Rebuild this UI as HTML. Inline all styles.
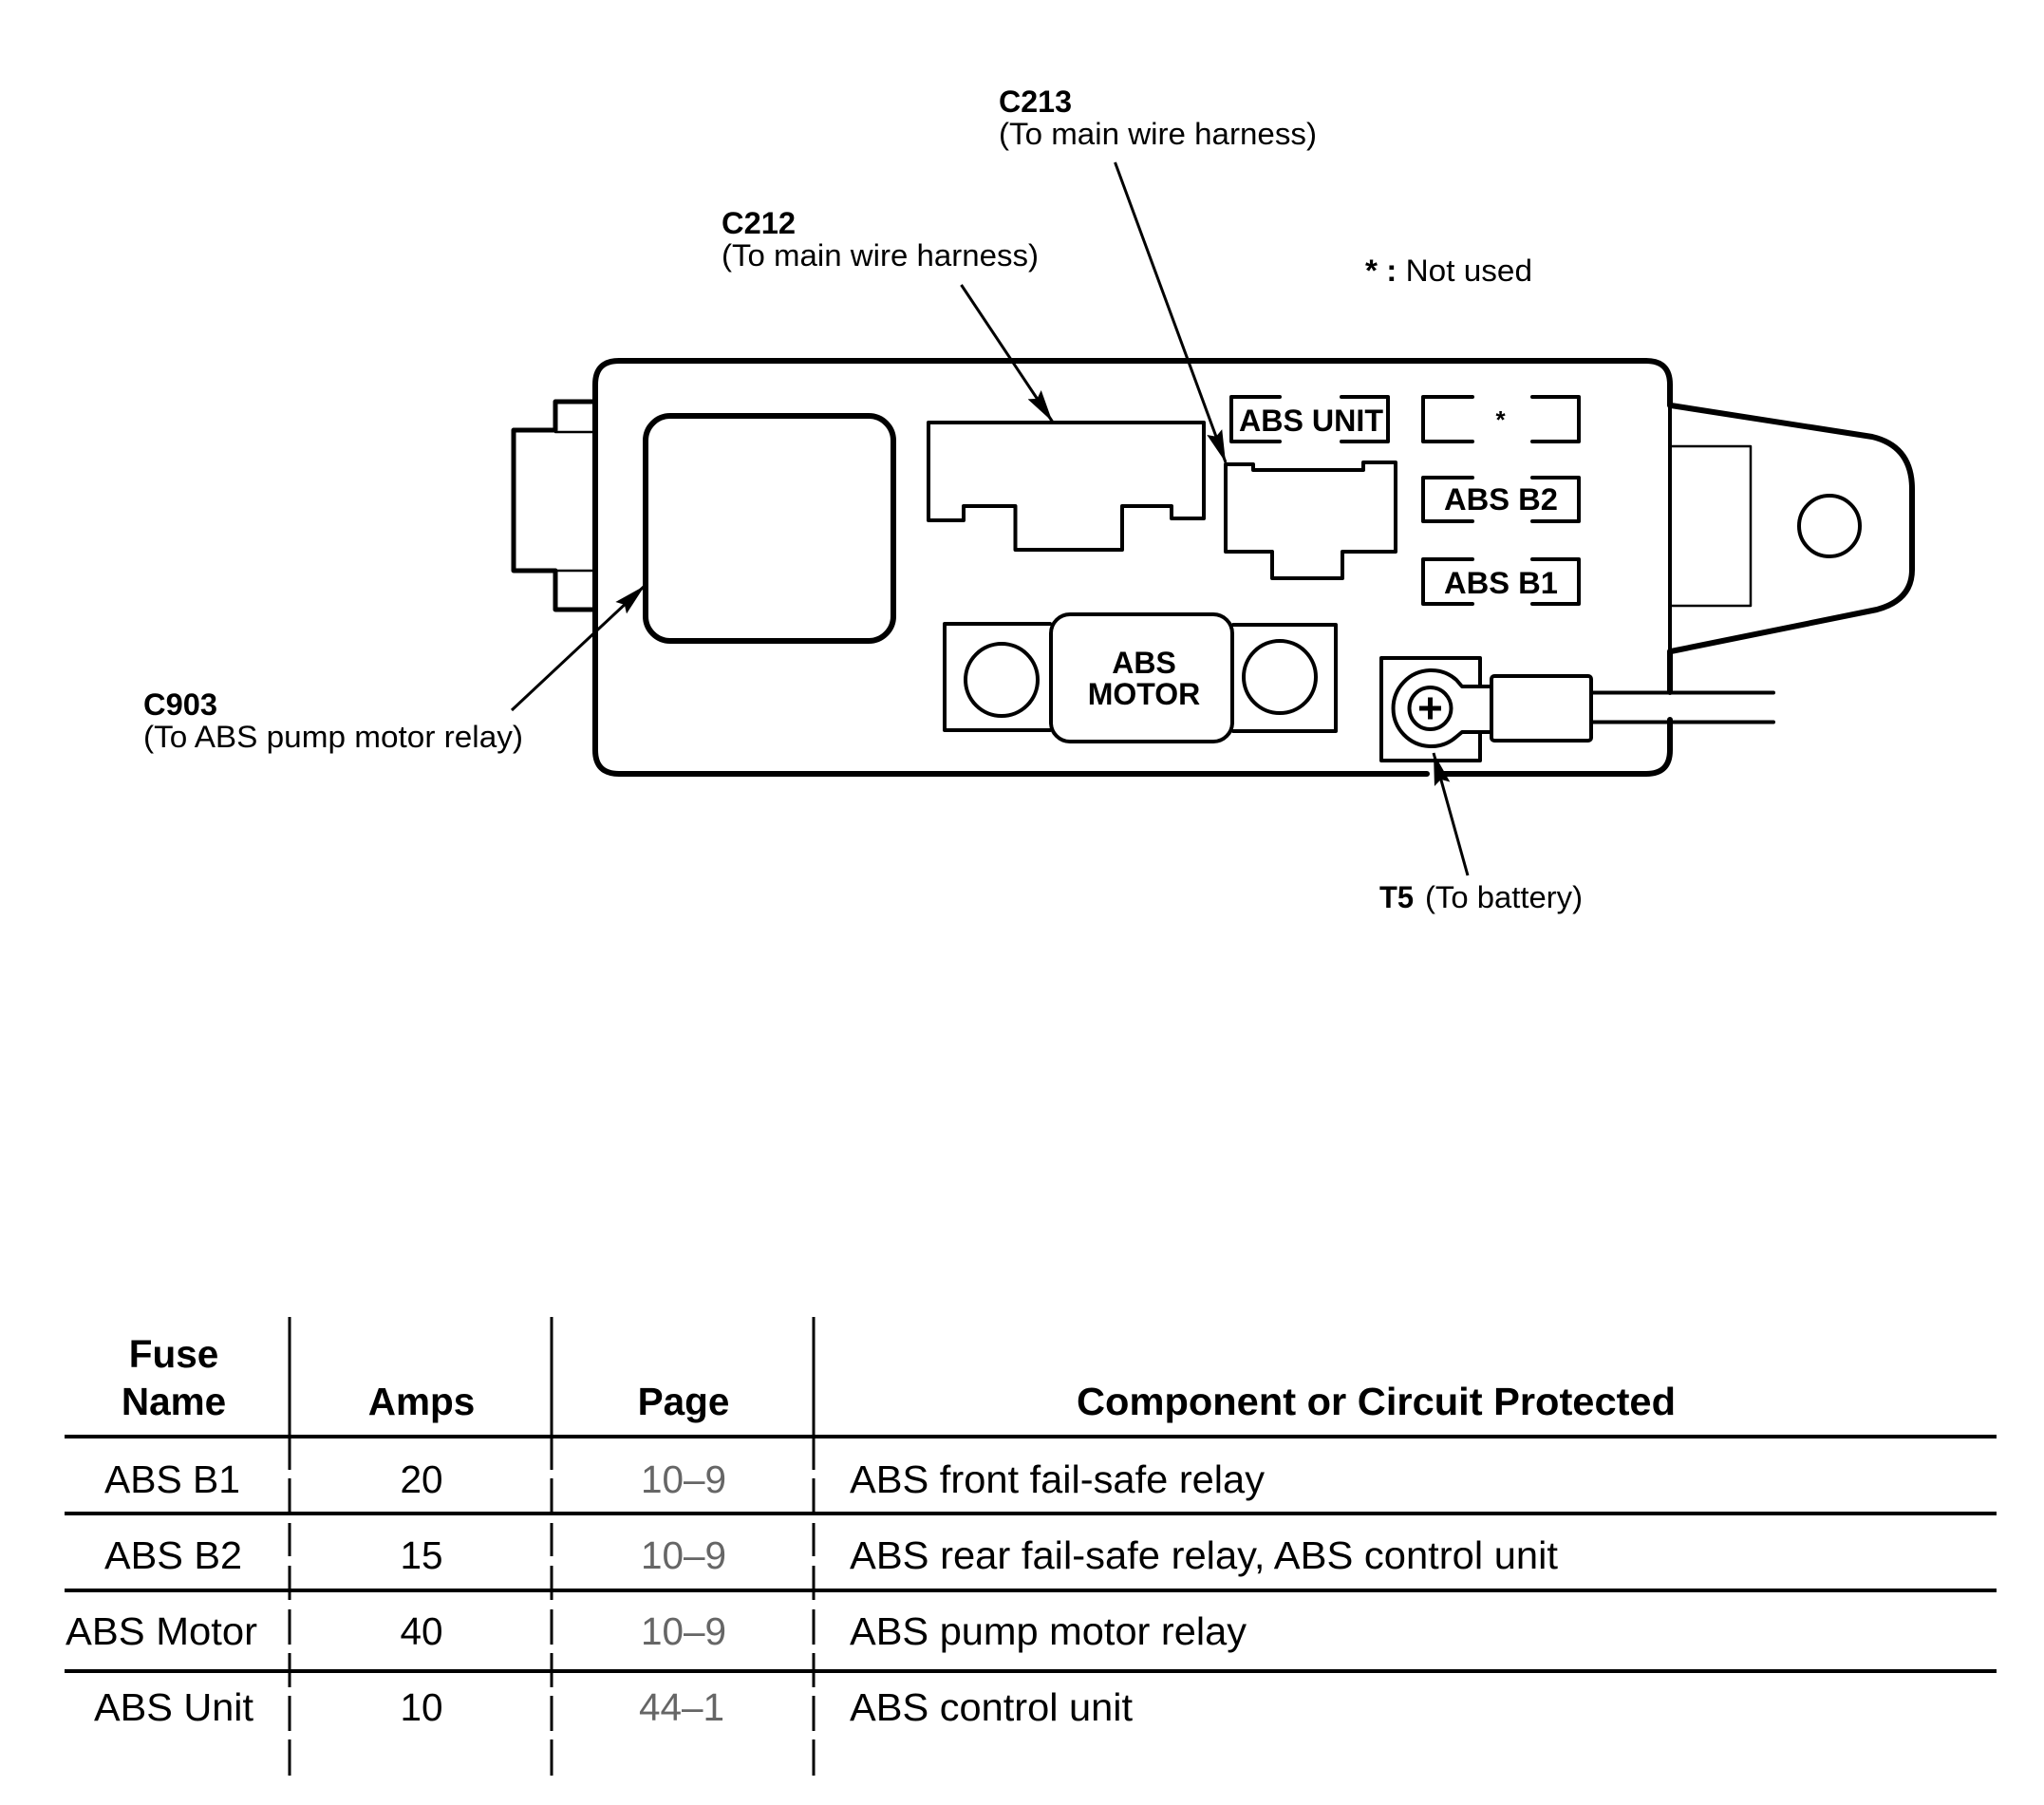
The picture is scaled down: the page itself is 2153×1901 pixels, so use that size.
<!DOCTYPE html>
<html><head><meta charset="utf-8"><style>
html,body{margin:0;padding:0;background:#fff}
svg{display:block}
text{font-family:"Liberation Sans",Arial,sans-serif;fill:#000}
.b{font-weight:bold}
</style></head><body>
<svg width="2153" height="1901" viewBox="0 0 2153 1901" xmlns="http://www.w3.org/2000/svg">
<defs><marker id="a" markerUnits="userSpaceOnUse" markerWidth="36" markerHeight="24" refX="34" refY="12" orient="auto"><path d="M0,3.5 L34,12 L0,20.5 L5,12 Z" fill="#000"/></marker></defs>
<rect width="2153" height="1901" fill="#fff"/>

<g fill="none" stroke="#000" stroke-linejoin="round" stroke-linecap="round">
  <!-- main housing -->
  <path stroke-width="6" d="M1759,427 V405 Q1759,380 1734,380 H652 Q627,380 627,405 V790 Q627,815 652,815 H1503 M1520,815 H1734 Q1759,815 1759,790 V758 M1759,686 V729"/>
  <path stroke-width="4" d="M1759,427 V686"/>
  <!-- left connector -->
  <path stroke-width="5" d="M627,423 H585 V453 H541 V601 H585 V642 H627"/>
  <path stroke-width="2.5" d="M585,455 H627 M585,601 H627"/>
  <!-- big relay -->
  <rect x="680" y="438" width="261" height="237" rx="26" stroke-width="6"/>
  <!-- C212 -->
  <path stroke-width="4" d="M978,445 H1268 V546 H1234 V533 H1182 V579 H1069.5 V533 H1015 V548 H978 Z"/>
  <!-- C213 -->
  <path stroke-width="4" d="M1291,489 H1320 V495 H1436 V487 H1470 V581 H1414 V609 H1340 V581 H1291 Z"/>
  <!-- brackets -->
  <path stroke-width="4" d="M1348,418 H1297 V465 H1348 M1413,418 H1462 V465 H1413"/>
  <path stroke-width="4" d="M1551,418 H1499 V465 H1551 M1614,418 H1663 V465 H1614"/>
  <path stroke-width="4" d="M1551,503 H1499 V549 H1551 M1614,503 H1663 V549 H1614"/>
  <path stroke-width="4" d="M1551,589 H1499 V636 H1551 M1614,589 H1663 V636 H1614"/>
  <!-- ABS motor fuse -->
  <path stroke-width="4" d="M1106,657 H995 V769 H1106"/>
  <path stroke-width="4" d="M1299,658 H1407 V770 H1299"/>
  <rect x="1107" y="647" width="191" height="134" rx="20" stroke-width="4"/>
  <circle cx="1055" cy="716" r="38" stroke-width="4"/>
  <circle cx="1348" cy="713" r="38" stroke-width="4"/>
  <!-- ear -->
  <path stroke-width="6" d="M1760,427 L1972,460 Q2014,470 2014,515 V600 Q2014,632 1977,642 L1760,686"/>
  <path stroke-width="2.5" d="M1760,470 H1844 V638 H1760"/>
  <circle cx="1927" cy="554" r="32" stroke-width="4"/>
  <!-- T5 terminal -->
  <path stroke-width="4" d="M1559,723 V693 H1455 V801 H1559 V771"/>
  <path stroke-width="4" d="M1570,723 H1540 L1534,716 A40,40 0 1 0 1534,776 L1540,771 H1570" fill="#fff"/>
  <circle cx="1506.5" cy="746" r="22" stroke-width="4"/>
  <path stroke-width="5" stroke-linecap="butt" d="M1495,746 H1518 M1506.5,734.5 V757.5"/>
  <rect x="1571" y="712" width="105" height="68" rx="3" stroke-width="4"/>
  <path stroke-width="4" d="M1676,729.5 H1868 M1676,760.5 H1868"/>
  <!-- leaders -->
  <path stroke-width="3" marker-end="url(#a)" stroke-linecap="butt" d="M1012.5,300 L1108.5,444"/>
  <path stroke-width="3" marker-end="url(#a)" stroke-linecap="butt" d="M1174.5,171 L1291,487"/>
  <path stroke-width="3" marker-end="url(#a)" stroke-linecap="butt" d="M539,748 L679,617"/>
  <path stroke-width="3" marker-end="url(#a)" stroke-linecap="butt" d="M1546,922 L1510,793"/>
  <!-- table -->
  <path stroke-width="4" stroke-linecap="butt" d="M68,1513 H2103 M68,1594 H2103 M68,1675 H2103 M68,1760 H2103"/>
  <path stroke-width="3" stroke-linecap="butt" d="M305,1387 V1548 M305,1557 V1594 M305,1604 V1639 M305,1649 V1685 M305,1695 V1732 M305,1741 V1777 M305,1786 V1823 M305,1832 V1870
    M581,1387 V1548 M581,1557 V1594 M581,1604 V1639 M581,1649 V1685 M581,1695 V1732 M581,1741 V1777 M581,1786 V1823 M581,1832 V1870
    M857,1387 V1548 M857,1557 V1594 M857,1604 V1639 M857,1649 V1685 M857,1695 V1732 M857,1741 V1777 M857,1786 V1823 M857,1832 V1870"/>
</g>

<!-- callouts -->
<g font-size="32">
  <text class="b" x="1052" y="118" textLength="77" lengthAdjust="spacingAndGlyphs">C213</text>
  <text x="1052" y="152" textLength="335" lengthAdjust="spacingAndGlyphs">(To main wire harness)</text>
  <text class="b" x="760" y="246" textLength="78" lengthAdjust="spacingAndGlyphs">C212</text>
  <text x="760" y="280" textLength="334" lengthAdjust="spacingAndGlyphs">(To main wire harness)</text>
  <text x="1438" y="296" textLength="176" lengthAdjust="spacingAndGlyphs"><tspan class="b">* :</tspan> Not used</text>
  <text class="b" x="151" y="753" textLength="78" lengthAdjust="spacingAndGlyphs">C903</text>
  <text x="151" y="787" textLength="400" lengthAdjust="spacingAndGlyphs">(To ABS pump motor relay)</text>
  <text class="b" x="1453" y="956" textLength="36" lengthAdjust="spacingAndGlyphs">T5</text>
  <text x="1501" y="956" textLength="166" lengthAdjust="spacingAndGlyphs">(To battery)</text>
  <text class="b" x="1305" y="454" textLength="152" lengthAdjust="spacingAndGlyphs">ABS UNIT</text>
  <text class="b" x="1580.5" y="451" text-anchor="middle" font-size="26">*</text>
  <text class="b" x="1521" y="537" textLength="120" lengthAdjust="spacingAndGlyphs">ABS B2</text>
  <text class="b" x="1521" y="625" textLength="120" lengthAdjust="spacingAndGlyphs">ABS B1</text>
  <text class="b" x="1205" y="709" text-anchor="middle">ABS</text>
  <text class="b" x="1205" y="742" text-anchor="middle">MOTOR</text>
</g>

<!-- table text -->
<g font-size="40.5">
  <text class="b" x="183" y="1440" text-anchor="middle">Fuse</text>
  <text class="b" x="183" y="1490" text-anchor="middle">Name</text>
  <text class="b" x="444" y="1490" text-anchor="middle">Amps</text>
  <text class="b" x="720" y="1490" text-anchor="middle">Page</text>
  <text class="b" x="1134" y="1490" textLength="631" lengthAdjust="spacingAndGlyphs">Component or Circuit Protected</text>

  <text x="110" y="1572" textLength="143" lengthAdjust="spacingAndGlyphs">ABS B1</text>
  <text x="110" y="1652" textLength="145" lengthAdjust="spacingAndGlyphs">ABS B2</text>
  <text x="69" y="1732" textLength="202" lengthAdjust="spacingAndGlyphs">ABS Motor</text>
  <text x="99" y="1812" textLength="168" lengthAdjust="spacingAndGlyphs">ABS Unit</text>

  <text x="444" y="1572" text-anchor="middle">20</text>
  <text x="444" y="1652" text-anchor="middle">15</text>
  <text x="444" y="1732" text-anchor="middle">40</text>
  <text x="444" y="1812" text-anchor="middle">10</text>

  <text x="720" y="1572" text-anchor="middle" style="fill:#666">10–9</text>
  <text x="720" y="1652" text-anchor="middle" style="fill:#666">10–9</text>
  <text x="720" y="1732" text-anchor="middle" style="fill:#666">10–9</text>
  <text x="718" y="1812" text-anchor="middle" style="fill:#666">44–1</text>

  <text x="895" y="1572" textLength="437" lengthAdjust="spacingAndGlyphs">ABS front fail-safe relay</text>
  <text x="895" y="1652" textLength="746" lengthAdjust="spacingAndGlyphs">ABS rear fail-safe relay, ABS control unit</text>
  <text x="895" y="1732" textLength="418" lengthAdjust="spacingAndGlyphs">ABS pump motor relay</text>
  <text x="895" y="1812" textLength="298" lengthAdjust="spacingAndGlyphs">ABS control unit</text>
</g>
</svg>
</body></html>
